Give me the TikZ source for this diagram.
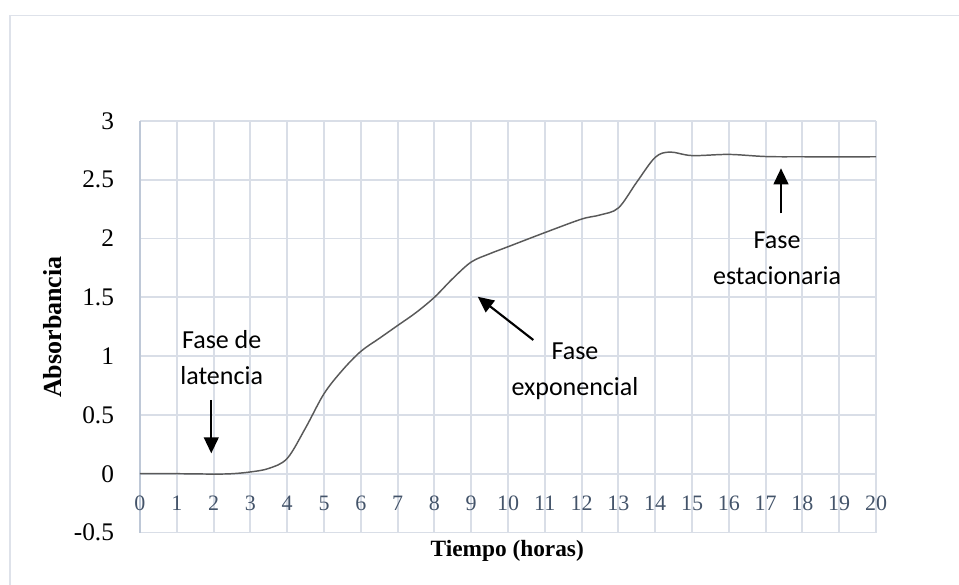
\documentclass[tikz,border=0pt]{standalone}
\usepackage{fontspec}
\setmainfont{Liberation Serif}
\newfontfamily\calibri{Carlito}
\usetikzlibrary{arrows.meta}
\definecolor{gridColor}{RGB}{217,222,231}
\definecolor{axisColor}{RGB}{190,200,215}
\definecolor{tickColor}{RGB}{68,84,106}
\definecolor{curveColor}{RGB}{89,89,89}
\definecolor{frameColor}{RGB}{222,226,234}
\tikzset{
    yTickLabel/.style={font=\fontsize{19}{22}\selectfont},
    xTickLabel/.style={text=tickColor, font=\fontsize{16.5}{20}\selectfont},
    axisTitle/.style={font=\fontsize{17.5}{21}\selectfont\bfseries},
    phaseLabel/.style={align=center, font=\calibri\fontsize{19.5}{27}\selectfont},
    phaseArrow/.style={line width=1.6pt, -{Triangle[width=11pt,length=12pt]}}
}

\begin{document}
\begin{tikzpicture}[x=27.6pt,y=88.2pt]
    \useasboundingbox (-3.804,-0.946) rectangle (22.255,4.028);
    \draw[frameColor, line width=1.2pt] (-3.533,-1) -- (-3.533,3.896) -- (22.4,3.896);
    \foreach \i in {1,...,20}
        \draw[gridColor, line width=1.4pt] (\i,-0.5) -- (\i,3);
    \foreach \j in {-0.5,0,0.5,1,1.5,2,2.5,3}
        \draw[gridColor, line width=1.4pt] (0,\j) -- (20,\j);
    \draw[axisColor, line width=1.4pt] (0,-0.5) -- (0,3);
    \foreach \j in {-0.5,0,0.5,1,1.5,2,2.5,3}
        \node[yTickLabel, anchor=east] (y\j) at (-0.58,\j) {\j};
    \foreach \i in {0,...,20}
        \node[xTickLabel] (x\i) at (\i,-0.25) {\i};
    \node[axisTitle, font=\fontsize{19.5}{23}\selectfont\bfseries, rotate=90] (yTitle) at (-2.364,1.247) {Absorbancia};
    \node[axisTitle] (xTitle) at (9.98,-0.655) {Tiempo (horas)};
    \draw[curveColor, line width=1.1pt] plot[smooth, tension=0.55] coordinates {
        (0,0) (1,0) (2,-0.003) (2.5,0) (3,0.015) (3.5,0.045) (4,0.13) (4.5,0.39)
        (5,0.68) (5.5,0.88) (6,1.04) (6.5,1.15) (7,1.26) (7.5,1.37) (8,1.5)
        (8.5,1.66) (9,1.8) (9.5,1.87) (10,1.93) (11,2.05) (12,2.165) (12.5,2.2)
        (13,2.26) (13.5,2.48) (14,2.69) (14.4,2.735) (15,2.705) (16,2.715)
        (17,2.697) (18,2.695) (20,2.695)};
    \node[phaseLabel] (latencia) at (2.22,0.984) {Fase de\\latencia};
    \node[phaseLabel] (exponencial) at (11.82,0.873) {Fase\\exponencial};
    \node[phaseLabel] (estacionaria) at (17.31,1.834) {Fase\\estacionaria};
    \coordinate (latTail) at (1.937,0.627);
    \coordinate (latTip) at (1.937,0.173);
    \coordinate (expTail) at (10.688,1.137);
    \coordinate (expTip) at (9.177,1.505);
    \coordinate (estTail) at (17.418,2.214);
    \coordinate (estTip) at (17.418,2.597);
    \draw[phaseArrow] (latTail) -- (latTip);
    \draw[phaseArrow] (expTail) -- (expTip);
    \draw[phaseArrow] (estTail) -- (estTip);
\end{tikzpicture}
\end{document}
